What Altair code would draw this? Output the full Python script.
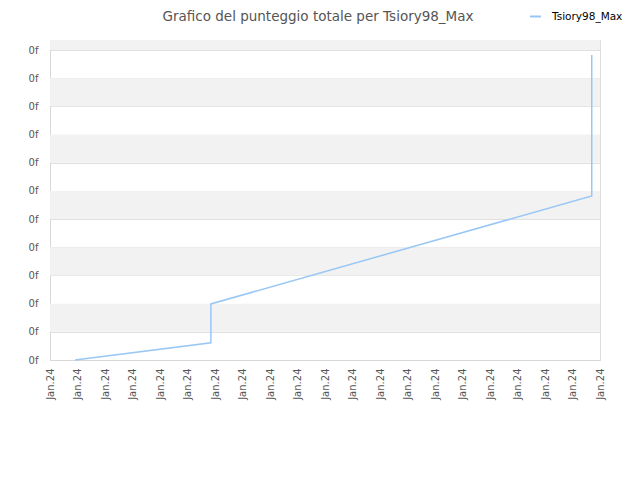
import altair as alt
import pandas as pd

# ---- data ----
series_name = "Tsiory98_Max"
line_x = [0.91, 5.85, 5.85, 19.70, 19.70]
line_y = [0.0, 0.61, 1.99, 5.82, 10.82]
x_ticks = list(range(0, 21))
x_tick_label = "Jan.24"
y_ticks = list(range(0, 12))
y_tick_label = "0f"
band_start = [1, 3, 5, 7, 9, 11]
band_end = [2, 4, 6, 8, 10, 11.355]

Y_MAX = 11.355
X_MAX = 20

line_df = pd.DataFrame({"x": line_x, "y": line_y, "series": [series_name] * len(line_x)})
band_df = pd.DataFrame({"y0": band_start, "y1": band_end})

xscale = alt.Scale(domain=[0, X_MAX], nice=False, zero=False)
yscale = alt.Scale(domain=[0, Y_MAX], nice=False)

y_axis = alt.Axis(values=y_ticks, labelExpr=f"'{y_tick_label}'", ticks=False,
                  grid=True, gridColor="#e0e0e0", domainColor="#d8d8d8",
                  labelColor="#555", labelFont="DejaVu Sans", labelFontSize=10,
                  labelPadding=12, title=None)

bands = alt.Chart(band_df).mark_rect(color="#f2f2f2").encode(
    y=alt.Y("y0:Q", scale=yscale, axis=y_axis),
    y2="y1:Q",
)

line = alt.Chart(line_df).mark_line(strokeWidth=1.5).encode(
    x=alt.X("x:Q", scale=xscale,
            axis=alt.Axis(values=x_ticks, labelExpr=f"'{x_tick_label}'", labelAngle=270,
                          ticks=False, grid=False, domainColor="#d8d8d8", labelColor="#555",
                          labelFont="DejaVu Sans", labelFontSize=10, labelPadding=8,
                          title=None, labelOverlap=False)),
    y=alt.Y("y:Q", scale=yscale, axis=y_axis),
    color=alt.Color("series:N", scale=alt.Scale(range=["#99c7f5"]),
                    legend=alt.Legend(title=None, orient="none", legendX=479, legendY=-30,
                                      symbolType="stroke", symbolStrokeWidth=2, symbolSize=120,
                                      labelOffset=10,
                                      labelFont="DejaVu Sans", labelFontSize=10.5,
                                      labelColor="#000")),
)

chart = alt.layer(bands, line).properties(
    width=550,
    height=320,
    padding={"left": 42, "top": 32, "right": 32, "bottom": 104},
    autosize=alt.AutoSizeParams(type="none"),
    title=alt.TitleParams("Grafico del punteggio totale per Tsiory98_Max", anchor="middle",
                          font="DejaVu Sans", fontSize=13.5, fontWeight="normal",
                          color="#555", dx=-7, offset=-13),
).configure_view(stroke="#dddddd")

chart.save("out.html", embed_options={"renderer": "svg", "actions": False})
